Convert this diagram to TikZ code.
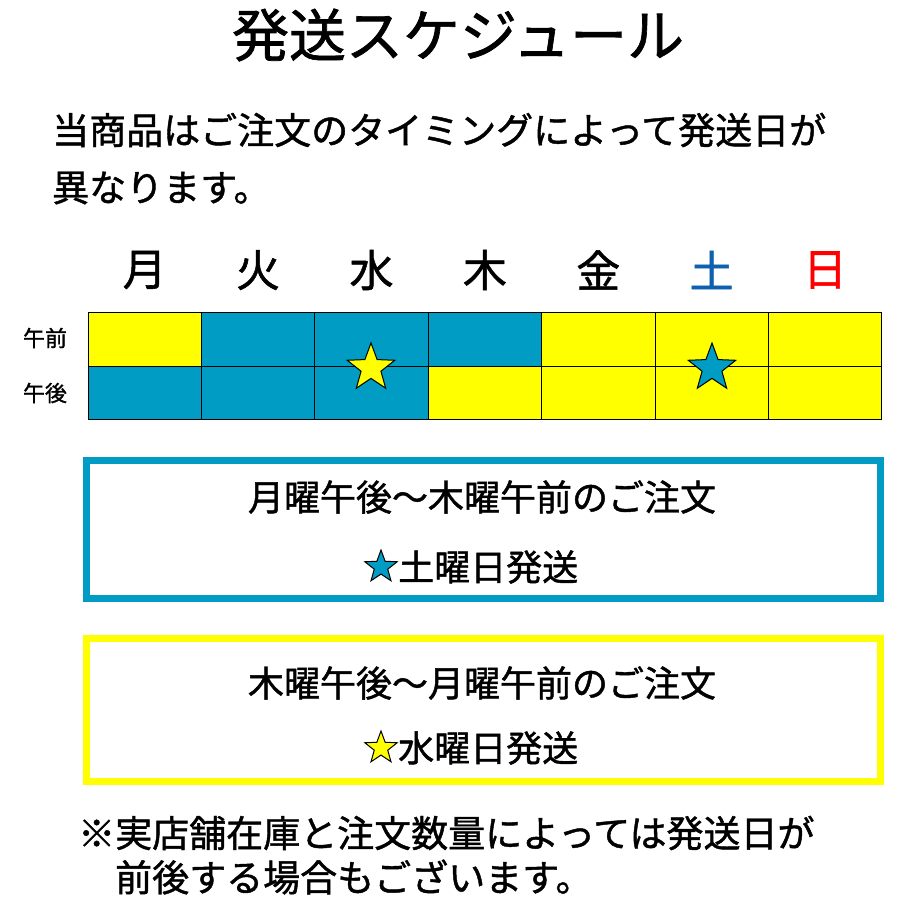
\documentclass[tikz,border=0pt]{standalone}
\usepackage{fontspec}
\setmainfont[FakeBold=1.2,AutoFakeBold=1.2]{Noto Sans CJK JP}
\usetikzlibrary{shapes.geometric}
\definecolor{cb}{HTML}{009CC4}
\definecolor{cy}{HTML}{FFFF00}
\definecolor{dblue}{HTML}{1060B0}
\tikzset{
 cell/.style={draw=black,line width=0.8pt},
 bstar/.style={star,star points=5,star point ratio=2.4,draw=black,line width=1pt,minimum size=#1,inner sep=0pt},
 day/.style={font=\fontsize{44}{44}\selectfont},
 txt/.style={font=\fontsize{37}{37}\selectfont,anchor=west,inner sep=0pt},
 btxt/.style={font=\fontsize{36}{36}\selectfont,inner sep=0pt},
}
\begin{document}
\begin{tikzpicture}[x=1pt,y=-1pt]
\useasboundingbox[fill=white] (0,0) rectangle (900,900);
\node[font=\fontsize{57}{57}\selectfont] (title) at (458,35) {発送スケジュール};
\node[txt] (l1) at (52,130) {当商品はご注文のタイミングによって発送日が};
\node[txt] (l2) at (52,188) {異なります。};
\foreach \t/\c [count=\i from 0] in {月/black,火/black,水/black,木/black,金/black,土/dblue,日/red}{
  \node[day,text=\c] (d\i) at ({88+113.4*(\i+0.5)},270) {\t};
}
\foreach \c [count=\i from 0] in {cy,cb,cb,cb,cy,cy,cy}{
  \draw[cell,fill=\c] ({88+113.4*\i},312) rectangle ({88+113.4*(\i+1)},366);
}
\foreach \c [count=\i from 0] in {cb,cb,cb,cy,cy,cy,cy}{
  \draw[cell,fill=\c] ({88+113.4*\i},366) rectangle ({88+113.4*(\i+1)},419);
}
\node[font=\fontsize{22}{22}\selectfont] (am) at (45,338) {午前};
\node[font=\fontsize{22}{22}\selectfont] (pm) at (45,393) {午後};
\node[bstar=50pt,fill=cy] (s1) at (371,368) {};
\node[bstar=50pt,fill=cb] (s2) at (712,368) {};
\draw[cb,line width=7pt] (86,460) rectangle (880,598);
\node[btxt] (b1a) at (482,497) {月曜午後～木曜午前のご注文};
\node[bstar=34pt,fill=cb] (b1s) at (381,567) {};
\node[btxt,anchor=west] (b1b) at (398,567) {土曜日発送};
\draw[cy,line width=7pt] (86,638) rectangle (880,781);
\node[btxt] (b2a) at (482,683) {木曜午後～月曜午前のご注文};
\node[bstar=34pt,fill=cy] (b2s) at (381,748) {};
\node[btxt,anchor=west] (b2b) at (398,748) {水曜日発送};
\node[txt] (f1) at (78,833) {※実店舗在庫と注文数量によっては発送日が};
\node[txt] (f2) at (115,877) {前後する場合もございます。};
\end{tikzpicture}
\end{document}
